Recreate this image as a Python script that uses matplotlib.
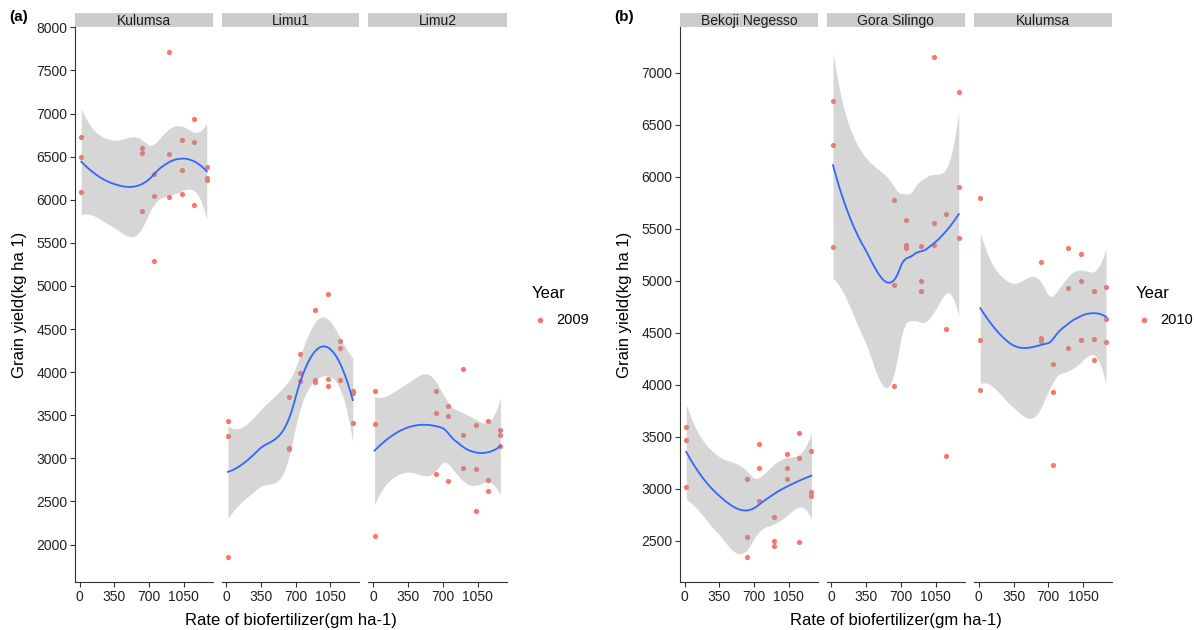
import numpy as np
import matplotlib.pyplot as plt
from matplotlib.patches import Rectangle

plt.rcParams['font.family'] = ['Liberation Sans', 'DejaVu Sans']

# biofertilizer rates (gm ha-1), three plots per rate
rates = [15, 630, 750, 900, 1030, 1155, 1280]
x_ticks = [0, 350, 700, 1050]

# grain yield (kg ha-1), one row per rate
kulumsa_2009 = [[6731, 6500, 6085], [6600, 6546, 5873], [6304, 6046, 5288],
                [7712, 6535, 6027], [6688, 6342, 6065], [6935, 6669, 5942],
                [6385, 6258, 6235]]
limu1_2009 = [[3437, 3264, 1858], [3715, 3125, 3106], [4208, 3985, 3900],
              [4720, 3908, 3888], [4902, 3919, 3838], [4362, 4281, 3904],
              [3777, 3754, 3414]]
limu2_2009 = [[3777, 3395, 2100], [3777, 3530, 2813], [3603, 3488, 2736],
              [4031, 3272, 2883], [3384, 2871, 2390], [3437, 2748, 2624],
              [3326, 3272, 3148]]
bekoji_2010 = [[3591, 3473, 3012], [3089, 2533, 2346], [3428, 3198, 2878],
               [2730, 2500, 2449], [3335, 3198, 3089], [3540, 3300, 2490],
               [3361, 2967, 2932]]
gora_2010 = [[6726, 6300, 5328], [5772, 4956, 3984], [5587, 5347, 5311],
             [5337, 4995, 4902], [7154, 5558, 5347], [5644, 4538, 3319],
             [6812, 5900, 5414]]
kulumsa_2010 = [[5798, 4426, 3949], [5184, 4448, 4420], [4195, 3934, 3233],
                [5311, 4931, 4349], [5254, 4999, 4426], [4903, 4442, 4241],
                [4937, 4630, 4409]]

sites_a = ['Kulumsa', 'Limu1', 'Limu2']
sites_b = ['Bekoji Negesso', 'Gora Silingo', 'Kulumsa']

SPAN = 1.0
PT = '#F8766D'
LINE = '#3366FF'
AX = '#333333'
W, H = 1194, 630


def local_fit(x, x0):
    # local quadratic with tricube weights; operator rows for value and slope
    n = len(x)
    q = int(np.floor(n * SPAN))
    d = np.abs(x - x0)
    rho = np.sort(d)[q - 1]
    w = np.clip(1 - (d / rho) ** 3, 0, None) ** 3
    X = np.column_stack([np.ones(n), x - x0, (x - x0) ** 2])
    XtW = X.T * w
    B = np.linalg.pinv(XtW @ X) @ XtW
    return B[0], B[1]


def t975(df):
    z = 1.959964
    g1 = (z**3 + z) / 4
    g2 = (5*z**5 + 16*z**3 + 3*z) / 96
    g3 = (3*z**7 + 19*z**5 + 17*z**3 - 15*z) / 384
    g4 = (79*z**9 + 776*z**7 + 1482*z**5 - 1920*z**3 - 945*z) / 92160
    return z + g1/df + g2/df**2 + g3/df**3 + g4/df**4


def operator(verts, vals, slopes, pts):
    # cubic hermite between vertices, like loess surface="interpolate"
    rows = []
    for p in pts:
        j = min(np.searchsorted(verts, p, side='right') - 1, len(verts) - 2)
        h = verts[j + 1] - verts[j]
        t = (p - verts[j]) / h
        h00 = 2*t**3 - 3*t**2 + 1
        h10 = t**3 - 2*t**2 + t
        h01 = -2*t**3 + 3*t**2
        h11 = t**3 - t**2
        rows.append(h00*vals[j] + h10*h*slopes[j] + h01*vals[j+1] + h11*h*slopes[j+1])
    return np.array(rows)


def smooth(x, y):
    n = len(x)
    ux = np.unique(x)
    mu = 0.005 * (ux[-1] - ux[0])
    verts = np.concatenate([[ux[0] - mu], (ux[:-1] + ux[1:]) / 2, [ux[-1] + mu]])
    fits = [local_fit(x, v) for v in verts]
    vals = [f[0] for f in fits]
    slopes = [f[1] for f in fits]
    L = operator(verts, vals, slopes, x)
    R = np.eye(n) - L
    M = R.T @ R
    d1 = np.trace(M)
    d2 = np.trace(M @ M)
    s = np.sqrt(np.sum((R @ y) ** 2) / d1)
    tq = t975(d1 ** 2 / d2)
    grid = np.linspace(x.min(), x.max(), 80)
    Lg = operator(verts, vals, slopes, grid)
    fit = Lg @ y
    se = s * np.sqrt(np.sum(Lg ** 2, axis=1))
    return grid, fit, fit - tq * se, fit + tq * se


def flat(table):
    x = np.repeat(np.array(rates, float), 3)
    y = np.array(table, float).ravel()
    return x, y


def draw_group(fig, tables, names, lefts, rights, yticks, year, lab, ylab_x, leg_x):
    data = [flat(t) for t in tables]
    fits = [smooth(x, y) for x, y in data]
    lo = min(min(y.min(), f[2].min()) for (x, y), f in zip(data, fits))
    hi = max(max(y.max(), f[3].max()) for (x, y), f in zip(data, fits))
    pad = (hi - lo) * 0.05
    xpad = (rates[-1] - rates[0]) * 0.05
    top, bot = 27, 582
    for i, ((x, y), (g, f, l, u), name) in enumerate(zip(data, fits, names)):
        ax = fig.add_axes([lefts[i] / W, (H - bot) / H,
                           (rights[i] - lefts[i]) / W, (bot - top) / H])
        ax.scatter(x, y, s=14, color=PT, lw=0, zorder=2)
        ax.fill_between(g, l, u, color='#999999', alpha=0.4, lw=0, zorder=3)
        ax.plot(g, f, color=LINE, lw=1.3, zorder=4)
        ax.set_xlim(rates[0] - xpad, rates[-1] + xpad)
        ax.set_ylim(lo - pad, hi + pad)
        ax.set_xticks(x_ticks)
        ax.set_yticks(yticks)
        for sp in ['top', 'right']:
            ax.spines[sp].set_visible(False)
        ax.spines['bottom'].set_color(AX)
        ax.spines['left'].set_color(AX)
        ax.tick_params(length=3.5, color=AX, labelsize=10, labelcolor='#222222', pad=2)
        if i > 0:
            ax.spines['left'].set_visible(False)
            ax.tick_params(axis='y', left=False, labelleft=False)
        ax.add_patch(Rectangle((0, 1), 1, 14 / (bot - top), transform=ax.transAxes,
                               color='#CCCCCC', lw=0, clip_on=False))
        ax.text(0.5, 1 + 6 / (bot - top), name, transform=ax.transAxes,
                ha='center', va='center', fontsize=10, color='#1A1A1A')
    mid = (lefts[0] + rights[-1]) / 2
    fig.text(mid / W, 1 - 620 / H, 'Rate of biofertilizer(gm ha-1)',
             ha='center', va='center', fontsize=12)
    fig.text(ylab_x / W, 1 - 305 / H, 'Grain yield(kg ha 1)', rotation=90,
             ha='center', va='center', fontsize=12)
    fig.text((ylab_x - 1) / W, 1 - 17 / H, lab, ha='center', va='center',
             fontsize=11, fontweight='bold')
    fig.text(leg_x / W, 1 - 293 / H, 'Year', ha='left', va='center', fontsize=12)
    fig.add_artist(plt.Line2D([(leg_x + 8) / W], [1 - 320 / H], marker='o', ms=4,
                              mec='none', mfc=PT, ls='', transform=fig.transFigure))
    fig.text((leg_x + 24) / W, 1 - 320 / H, year, ha='left', va='center', fontsize=10.5)


fig = plt.figure(figsize=(W / 100, H / 100), dpi=100)

draw_group(fig, [kulumsa_2009, limu1_2009, limu2_2009], sites_a,
           [75, 221.7, 368.3], [213, 359, 506.7],
           np.arange(2000, 8001, 500), '2009', '(a)', 20, 532)
draw_group(fig, [bekoji_2010, gora_2010, kulumsa_2010], sites_b,
           [680, 826.7, 974], [817.7, 965, 1112.3],
           np.arange(2500, 7001, 500), '2010', '(b)', 625, 1136)

fig.savefig('out.png', dpi=100)
